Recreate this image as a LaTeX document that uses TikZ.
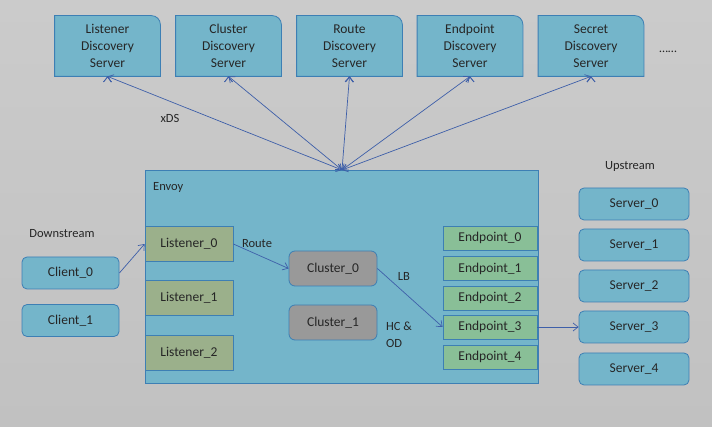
\documentclass[tikz,border=0pt]{standalone}
\usepackage{fontspec}
\setmainfont{Carlito}
\usetikzlibrary{arrows.meta,backgrounds}

\definecolor{bgtop}{HTML}{CBCBCB}
\definecolor{bgbot}{HTML}{C1C1C1}
\definecolor{boxblue}{HTML}{74B5CA}
\definecolor{edgeblue}{HTML}{3D7FB4}
\definecolor{lstgreen}{HTML}{9BB08B}
\definecolor{epgreen}{HTML}{89BF97}
\definecolor{clgray}{HTML}{999999}
\definecolor{arrowblue}{HTML}{3E5FA9}

\tikzset{
  box/.style = {draw=edgeblue, line width=0.8pt, inner sep=0pt, text=black!85,
                font=\fontsize{13.5}{17}\selectfont, align=center},
  xdsbox/.style = {box, draw=none, minimum width=105pt, minimum height=60pt},
  peer/.style = {box, fill=boxblue, rounded corners=5pt, minimum height=32pt},
  lstbox/.style = {box, fill=lstgreen, minimum width=88pt, minimum height=35pt},
  clbox/.style = {box, fill=clgray, rounded corners=6pt, minimum width=88pt, minimum height=35pt},
  epbox/.style = {box, fill=epgreen, minimum width=94pt, minimum height=24pt},
  lbl/.style = {inner sep=0pt, text=black!85, font=\fontsize{12.5}{17}\selectfont},
  link/.style = {draw=arrowblue, line width=0.7pt, -{Straight Barb[length=5pt,width=8pt]}},
  xds/.style = {link, {Straight Barb[length=5pt,width=8pt]}-{Straight Barb[length=5pt,width=8pt]}}
}

\begin{document}
\begin{tikzpicture}[x=1pt, y=-1pt]
  \useasboundingbox (0,0) rectangle (712,427);
  \begin{scope}[on background layer]
    \shade[top color=bgtop, bottom color=bgbot] (0,0) rectangle (712,427);
  \end{scope}

  % discovery servers
  \foreach \cx/\nm/\t in {107.5/lds/Listener, 228.5/cds/Cluster, 349.5/rds/Route,
                          470/eds/Endpoint, 591/sds/Secret} {
    \node[xdsbox] at (\cx, 46) (\nm) {\t\\Discovery\\Server};
    \begin{scope}[on background layer]
      \filldraw[fill=boxblue, draw=edgeblue, line width=0.8pt]
        (\nm.south west) -- (\nm.north west) -- ([xshift=-9pt]\nm.north east)
        arc[start angle=90, end angle=0, radius=9pt] -- (\nm.south east) -- cycle;
    \end{scope}
  }
  \node[lbl] at (668, 52) (more) {\dots\dots};

  % envoy
  \node[box, fill=boxblue, minimum width=393pt, minimum height=213pt] at (341.5, 276.5) (envoy) {};
  \node[lbl, anchor=west] at (153, 187) (envoylbl) {Envoy};
  \coordinate (hub) at (342, 170);
  \node[lbl] at (170, 118) (xdslbl) {xDS};

  \node[lstbox] at (189, 244) (l0) {Listener\_0};
  \node[lstbox] at (189, 298) (l1) {Listener\_1};
  \node[lstbox] at (189, 352.5) (l2) {Listener\_2};

  \node[clbox] at (333, 268.5) (c0) {Cluster\_0};
  \node[clbox] at (333, 322.5) (c1) {Cluster\_1};

  \node[epbox] at (490, 238) (ep0) {Endpoint\_0};
  \node[epbox] at (490, 268.5) (ep1) {Endpoint\_1};
  \node[epbox] at (490, 298) (ep2) {Endpoint\_2};
  \node[epbox] at (490, 327) (ep3) {Endpoint\_3};
  \node[epbox] at (490, 357) (ep4) {Endpoint\_4};

  \node[lbl] at (257, 244) (route) {Route};
  \node[lbl] at (404, 276) (lb) {LB};
  \node[lbl, anchor=west, align=left] at (386, 335) (hcod) {HC \&\\OD};

  % downstream / upstream
  \node[lbl] at (62, 234) (down) {Downstream};
  \node[peer, minimum width=97pt] at (70.5, 273) (client0) {Client\_0};
  \node[peer, minimum width=97pt] at (70.5, 320.5) (client1) {Client\_1};

  \node[lbl] at (630, 166) (up) {Upstream};
  \node[peer, minimum width=110pt] at (634, 204) (srv0) {Server\_0};
  \node[peer, minimum width=110pt] at (634, 245) (srv1) {Server\_1};
  \node[peer, minimum width=110pt] at (634, 286) (srv2) {Server\_2};
  \node[peer, minimum width=110pt] at (634, 327) (srv3) {Server\_3};
  \node[peer, minimum width=110pt] at (634, 369) (srv4) {Server\_4};

  \draw[xds] (lds.south) edge (hub);
  \draw[xds] (cds.south) edge (hub);
  \draw[xds] (rds.south) edge (hub);
  \draw[xds] (eds.south) edge (hub);
  \draw[xds] (sds.south) edge (hub);

  \draw[link] (client0.east) -- (l0.west);
  \draw[link] (l0.east) -- (c0.west);
  \draw[link] (c0.east) -- (ep3.west);
  \draw[link] (ep3.east) -- (srv3.west);
\end{tikzpicture}
\end{document}
